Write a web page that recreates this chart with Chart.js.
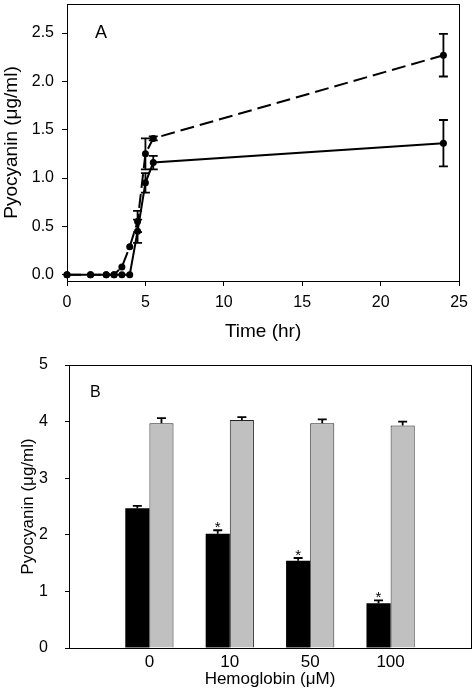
<!DOCTYPE html>
<html>
<head>
<meta charset="utf-8">
<script src="https://cdn.jsdelivr.net/npm/chart.js@4.4.0/dist/chart.umd.min.js"></script>
<style>
body { margin: 0; background: #fff; }
canvas { position: absolute; left: 0; }
#chartA { top: 0; }
#chartB { top: 345px; }
</style>
</head>
<body>
<canvas id="chartA" width="475" height="345"></canvas>
<canvas id="chartB" width="475" height="345"></canvas>
<script>
// panel A - pyocyanin vs time
var timesA = [0, 1.5, 2.5, 3, 3.5, 4, 4.5, 5, 5.5, 24];
var solidA = [0, 0, 0, 0, 0, 0, 0.45, 0.95, 1.16, 1.36];
var solidErrA = [0, 0, 0, 0, 0, 0, 0.12, 0.10, 0.07, 0.24];
var dashedA = [0, 0, 0, 0, 0.08, 0.29, 0.55, 1.25, 1.41, 2.27];
var dashedErrA = [0, 0, 0, 0, 0, 0, 0.11, 0.16, 0.02, 0.22];
var xTicksA = [0, 5, 10, 15, 20, 25];
var yTicksA = [0, 0.5, 1, 1.5, 2, 2.5];

// panel B - pyocyanin vs hemoglobin
var hemoglobin = ['0', '10', '50', '100'];
var blackB = [2.47, 2.02, 1.54, 0.79];
var blackErrB = [0.04, 0.06, 0.05, 0.05];
var grayB = [3.97, 4.03, 3.97, 3.93];
var grayErrB = [0.09, 0.05, 0.07, 0.07];
var starB = [false, true, true, true];
var yTicksB = [0, 1, 2, 3, 4, 5];

Chart.defaults.font.family = '"Liberation Sans", Arial, sans-serif';
Chart.defaults.color = '#000';

var errorBars = {
    id: 'errorBars',
    afterDatasetsDraw(chart) {
        var ctx = chart.ctx;
        var ys = chart.scales.y;
        ctx.save();
        ctx.setLineDash([]);
        ctx.strokeStyle = '#000';
        ctx.lineWidth = 1.8;
        chart.data.datasets.forEach((ds, i) => {
            if (!ds.err) return;
            var meta = chart.getDatasetMeta(i);
            meta.data.forEach((el, j) => {
                var d = ds.data[j];
                var v = (d !== null && typeof d === 'object') ? d.y : d;
                var e = ds.err[j];
                if (v == null) return;
                var top = ys.getPixelForValue(v + (e || 0));
                if (e) {
                    var bot = ds.upOnly ? ys.getPixelForValue(v) : ys.getPixelForValue(v - e);
                    var cap = 4.5;
                    ctx.beginPath();
                    ctx.moveTo(el.x, top);
                    ctx.lineTo(el.x, bot);
                    ctx.moveTo(el.x - cap, top);
                    ctx.lineTo(el.x + cap, top);
                    if (!ds.upOnly) {
                        ctx.moveTo(el.x - cap, bot);
                        ctx.lineTo(el.x + cap, bot);
                    }
                    ctx.stroke();
                }
                if (ds.stars && ds.stars[j]) {
                    ctx.fillStyle = '#000';
                    ctx.font = '15px "Liberation Sans", Arial, sans-serif';
                    ctx.textAlign = 'center';
                    ctx.textBaseline = 'alphabetic';
                    ctx.fillText('*', el.x, top + 2);
                }
            });
        });
        ctx.restore();
    }
};

var frame = {
    id: 'frame',
    afterDraw(chart, args, opts) {
        var ctx = chart.ctx, a = chart.chartArea;
        ctx.save();
        ctx.strokeStyle = '#000';
        ctx.lineWidth = 1;
        ctx.strokeRect(Math.round(a.left) + 0.5, Math.round(a.top) + 0.5,
            Math.round(a.right - a.left), Math.round(a.bottom - a.top));
        ctx.fillStyle = '#000';
        ctx.font = opts.size + 'px "Liberation Sans", Arial, sans-serif';
        ctx.textAlign = 'left';
        ctx.textBaseline = 'alphabetic';
        ctx.fillText(opts.text, a.left + opts.dx, a.top + opts.dy);
        ctx.restore();
    }
};

function pointsOf(xs, ys) {
    return xs.map((t, i) => ({ x: t, y: ys[i] }));
}

function noPad(s) {
    s.paddingTop = 0;
    s.paddingBottom = 0;
}

new Chart(document.getElementById('chartA'), {
    type: 'line',
    data: {
        datasets: [{
            data: pointsOf(timesA, solidA),
            err: solidErrA,
            borderColor: '#000',
            borderWidth: 2,
            pointRadius: 3.5,
            pointBackgroundColor: '#000',
            pointBorderWidth: 0,
            tension: 0,
            clip: false
        }, {
            data: pointsOf(timesA, dashedA),
            err: dashedErrA,
            borderColor: '#000',
            borderWidth: 2,
            borderDash: [14, 6],
            pointRadius: 3.5,
            pointBackgroundColor: '#000',
            pointBorderWidth: 0,
            tension: 0,
            clip: false
        }]
    },
    options: {
        responsive: false,
        animation: false,
        layout: { padding: { top: 1, right: 9, left: 0, bottom: 0 } },
        plugins: {
            legend: { display: false },
            tooltip: { enabled: false },
            frame: { text: 'A', size: 18, dx: 28, dy: 34 }
        },
        scales: {
            x: {
                type: 'linear', min: 0, max: 25,
                afterBuildTicks: s => { s.ticks = xTicksA.map(v => ({ value: v })); },
                afterFit: s => { s.height = 64; },
                grid: { drawOnChartArea: false, tickLength: 5, color: '#000' },
                border: { color: '#000' },
                ticks: { padding: 7, font: { size: 16 }, color: '#000' },
                title: { display: true, text: 'Time (hr)', font: { size: 19 }, color: '#000', padding: { top: 0, bottom: 2 } }
            },
            y: {
                min: -0.065, max: 2.8,
                afterBuildTicks: s => { s.ticks = yTicksA.map(v => ({ value: v })); },
                afterFit: s => { s.width = 67; noPad(s); },
                grid: { drawOnChartArea: false, tickLength: 5, color: '#000' },
                border: { color: '#000' },
                ticks: { padding: 8, font: { size: 16 }, color: '#000', callback: v => v.toFixed(1) },
                title: { display: true, text: 'Pyocyanin (μg/ml)', font: { size: 19 }, color: '#000', padding: { top: 0, bottom: 0 } }
            }
        }
    },
    plugins: [errorBars, frame]
});

var labelsB = [''].concat(hemoglobin, ['']);
function pad(arr) { return [null].concat(arr, [null]); }

new Chart(document.getElementById('chartB'), {
    type: 'bar',
    data: {
        labels: labelsB,
        datasets: [{
            data: pad(blackB),
            err: pad(blackErrB),
            stars: pad(starB),
            upOnly: true,
            backgroundColor: '#000',
            borderWidth: 0,
            categoryPercentage: 0.6,
            barPercentage: 1.0
        }, {
            data: pad(grayB),
            err: pad(grayErrB),
            upOnly: true,
            backgroundColor: '#c0c0c0',
            borderColor: '#222',
            borderWidth: 1,
            categoryPercentage: 0.6,
            barPercentage: 1.0
        }]
    },
    options: {
        responsive: false,
        animation: false,
        layout: { padding: { top: 20, right: 2, left: 0, bottom: 0 } },
        plugins: {
            legend: { display: false },
            tooltip: { enabled: false },
            frame: { text: 'B', size: 16, dx: 21, dy: 32 }
        },
        scales: {
            x: {
                type: 'category', offset: false,
                afterFit: s => { s.height = 42; },
                grid: { display: false, drawTicks: false },
                border: { color: '#000' },
                ticks: { padding: 4, font: { size: 17 }, color: '#000', autoSkip: false, maxRotation: 0 },
                title: { display: true, text: 'Hemoglobin (μM)', font: { size: 17 }, color: '#000', padding: { top: 0, bottom: 0 } }
            },
            y: {
                min: 0, max: 5,
                afterBuildTicks: s => { s.ticks = yTicksB.map(v => ({ value: v })); },
                afterFit: s => { s.width = 69; noPad(s); },
                grid: { drawOnChartArea: false, tickLength: 4, color: '#000' },
                border: { color: '#000' },
                ticks: { padding: 17, font: { size: 16 }, color: '#000' },
                title: { display: true, text: 'Pyocyanin (μg/ml)', font: { size: 17 }, color: '#000', padding: { top: 18, bottom: 0 } }
            }
        }
    },
    plugins: [errorBars, frame]
});
</script>
</body>
</html>
